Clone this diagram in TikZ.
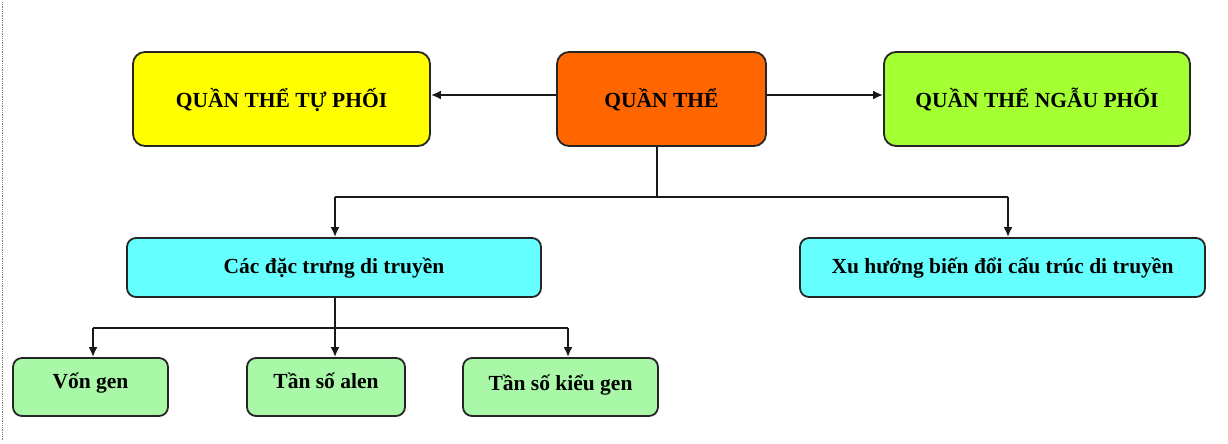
\documentclass[tikz,border=0pt]{standalone}
\usepackage{fontspec}
\setmainfont{Liberation Serif}
\usetikzlibrary{arrows.meta}
\definecolor{cyell}{HTML}{FFFF00}
\definecolor{corg}{HTML}{FF6600}
\definecolor{clime}{HTML}{A4FF33}
\definecolor{ccyan}{HTML}{66FFFF}
\definecolor{clgreen}{HTML}{A8F8A8}
\tikzset{
  box/.style={draw=black!85, line width=1.8pt, rounded corners=12pt, align=center,
    font=\fontsize{21.5}{24}\selectfont\bfseries, inner sep=0pt,
    text height=15pt, text depth=4pt},
  topbox/.style={box, minimum height=94pt},
  smallbox/.style={box, rounded corners=9pt},
  conn/.style={line width=2pt, draw=black!90},
  arr/.style={conn, -{Latex[length=10pt,width=9pt]}}
}
\begin{document}
\begin{tikzpicture}[x=1pt,y=-1pt]
\useasboundingbox (0,0) rectangle (1228,444);
\draw[gray, densely dotted, line width=0.8pt] (2,2) -- (2,440);
\node[topbox, fill=cyell, minimum width=297pt] (yel) at (281.5,99) {\raisebox{-3pt}{QUẦN THỂ TỰ PHỐI}};
\node[topbox, fill=corg, minimum width=209pt] (org) at (661.5,99) {\raisebox{-3pt}{QUẦN THỂ}};
\node[topbox, fill=clime, minimum width=306pt] (lim) at (1037,99) {\raisebox{-3pt}{QUẦN THỂ NGẪU PHỐI}};
\node[smallbox, fill=ccyan, minimum width=414pt, minimum height=59pt] (c1) at (334,267.5) {Các đặc trưng di truyền};
\node[smallbox, fill=ccyan, minimum width=405pt, minimum height=59pt] (c2) at (1002.5,267.5) {Xu hướng biến đổi cấu trúc di truyền};
\node[smallbox, fill=clgreen, minimum width=155pt, minimum height=58pt] (g1) at (90.5,387) {\raisebox{4pt}{Vốn gen}};
\node[smallbox, fill=clgreen, minimum width=158pt, minimum height=58pt] (g2) at (326,387) {\raisebox{4pt}{Tần số alen}};
\node[smallbox, fill=clgreen, minimum width=195pt, minimum height=58pt] (g3) at (560.5,387) {\raisebox{2pt}{Tần số kiểu gen}};
\coordinate (ty) at (661.5,95);
\draw[arr] (org.west |- ty) -- (yel.east |- ty);
\draw[arr] (org.east |- ty) -- (lim.west |- ty);
\coordinate (j0) at (657,197);
\coordinate (b1) at (335,197);
\coordinate (b2) at (1008,197);
\draw[conn] (org.south -| j0) -- (j0);
\draw[conn] (b1) -- (b2);
\draw[arr] (b1) -- (b1 |- c1.north);
\draw[arr] (b2) -- (b2 |- c2.north);
\coordinate (k0) at (335,328);
\coordinate (k1) at (93,328);
\coordinate (k3) at (568,328);
\draw[conn] (c1.south -| k0) -- (k0);
\draw[conn] (k1) -- (k3);
\draw[arr] (k1) -- (k1 |- g1.north);
\draw[arr] (k0) -- (k0 |- g2.north);
\draw[arr] (k3) -- (k3 |- g3.north);
\end{tikzpicture}
\end{document}
